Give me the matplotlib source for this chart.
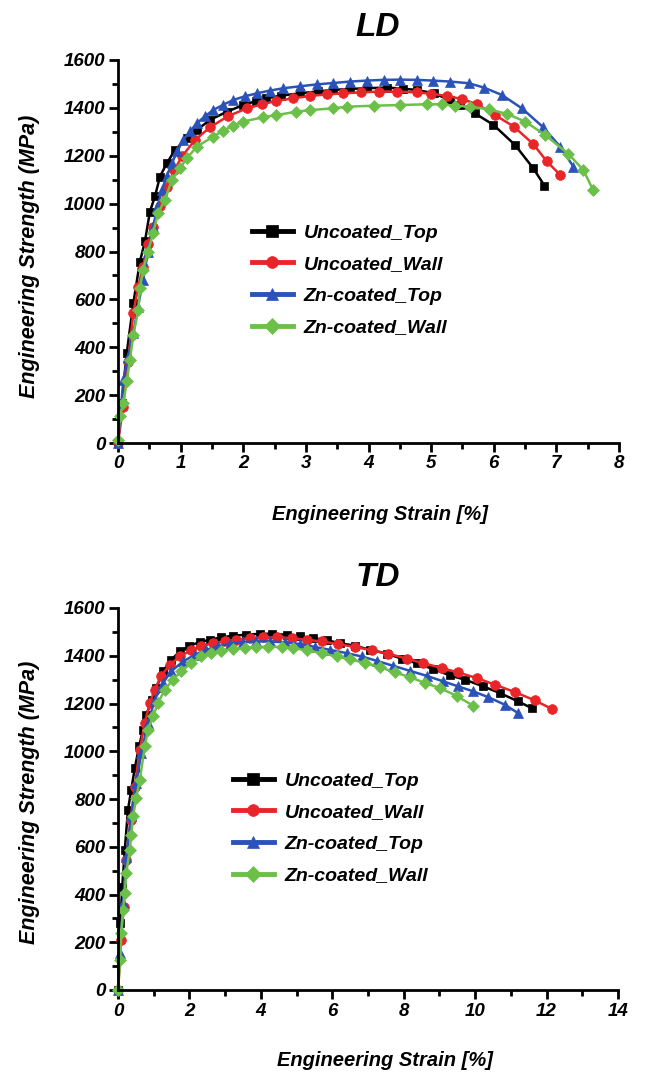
import matplotlib
matplotlib.use("Agg")
import matplotlib.pyplot as plt
from matplotlib.ticker import MultipleLocator

plt.rcParams['font.family'] = ['Liberation Sans', 'DejaVu Sans']
plt.rcParams['font.weight'] = 'bold'
plt.rcParams['font.style'] = 'italic'

labels = ["Uncoated_Top", "Uncoated_Wall", "Zn-coated_Top", "Zn-coated_Wall"]
colors = ["#000000", "#E8262A", "#2A52B8", "#6CC04A"]
markers = ["s", "o", "^", "D"]

# ---------------- LD data ----------------
ld_ut_x = [0.0, 0.06, 0.14, 0.245, 0.35, 0.43, 0.51, 0.59, 0.67, 0.78, 0.91, 1.10, 1.26, 1.47, 1.74,
           2.0, 2.2, 2.37, 2.6, 2.91, 3.2, 3.44, 3.7, 3.97, 4.29, 4.55, 4.77, 5.04, 5.30, 5.46, 5.70,
           5.996, 6.34, 6.63, 6.81]
ld_ut_y = [0, 167, 376, 584, 758, 842, 967, 1030, 1113, 1169, 1224, 1273, 1308, 1350, 1384,
           1412, 1428, 1440, 1451, 1461, 1469, 1475, 1479, 1482, 1485, 1480, 1475, 1461, 1433, 1412, 1377,
           1329, 1245, 1148, 1075]

ld_uw_x = [0.0, 0.08, 0.16, 0.245, 0.32, 0.40, 0.48, 0.56, 0.67, 0.78, 0.90, 1.02, 1.23, 1.47, 1.76,
           2.06, 2.3, 2.53, 2.8, 3.07, 3.33, 3.60, 3.88, 4.16, 4.45, 4.77, 5.0, 5.25, 5.49, 5.73,
           6.02, 6.32, 6.63, 6.85, 7.06]
ld_uw_y = [0, 150, 340, 543, 650, 737, 830, 904, 990, 1071, 1140, 1197, 1266, 1319, 1366,
           1398, 1415, 1429, 1440, 1450, 1456, 1461, 1465, 1468, 1468, 1465, 1459, 1450, 1437, 1416,
           1370, 1322, 1249, 1176, 1120]

ld_zt_x = [0.0, 0.085, 0.16, 0.245, 0.32, 0.40, 0.48, 0.56, 0.63, 0.70, 0.78, 0.86, 0.95, 1.04, 1.15,
           1.26, 1.39, 1.52, 1.68, 1.84, 2.02, 2.22, 2.42, 2.64, 2.9, 3.17, 3.44, 3.71, 3.97, 4.24,
           4.5, 4.77, 5.03, 5.30, 5.60, 5.84, 6.13, 6.45, 6.79, 7.06, 7.27]
ld_zt_y = [0, 264, 360, 459, 570, 682, 800, 904, 985, 1057, 1115, 1169, 1220, 1266, 1302,
           1336, 1365, 1391, 1413, 1433, 1448, 1461, 1472, 1482, 1490, 1498, 1504, 1510, 1514, 1517,
           1518, 1517, 1514, 1510, 1503, 1485, 1454, 1398, 1319, 1238, 1155]

ld_zw_x = [0.0, 0.03, 0.085, 0.14, 0.19, 0.245, 0.325, 0.35, 0.40, 0.48, 0.56, 0.64, 0.75, 0.86, 0.99,
           1.10, 1.26, 1.52, 1.68, 1.84, 2.0, 2.32, 2.53, 2.85, 3.07, 3.44, 3.65, 4.08, 4.50, 4.93,
           5.17, 5.38, 5.62, 5.92, 6.21, 6.50, 6.82, 7.19, 7.43, 7.59]
ld_zw_y = [14, 111, 167, 257, 348, 452, 557, 647, 723, 800, 877, 960, 1016, 1099, 1148,
           1190, 1238, 1280, 1305, 1325, 1343, 1361, 1370, 1384, 1391, 1398, 1405, 1409, 1412, 1415,
           1415, 1409, 1405, 1394, 1375, 1343, 1287, 1208, 1141, 1055]

# ---------------- TD data ----------------
td_ut_x = [0.0, 0.065, 0.12, 0.19, 0.28, 0.37, 0.47, 0.59, 0.70, 0.79, 0.96, 1.07, 1.26, 1.49, 1.73,
           2.0, 2.29, 2.57, 2.89, 3.22, 3.59, 3.97, 4.30, 4.72, 5.09, 5.46, 5.84, 6.21, 6.63, 7.05,
           7.52, 7.94, 8.36, 8.82, 9.29, 9.71, 10.22, 10.69, 11.2, 11.58]
td_ut_y = [0, 279, 433, 587, 755, 838, 929, 1020, 1090, 1153, 1216, 1265, 1335, 1383, 1418,
           1442, 1457, 1467, 1477, 1484, 1488, 1492, 1492, 1488, 1481, 1474, 1465, 1453, 1442, 1425,
           1409, 1388, 1369, 1344, 1318, 1300, 1272, 1244, 1209, 1181]

td_uw_x = [0.0, 0.09, 0.16, 0.23, 0.35, 0.47, 0.61, 0.75, 0.89, 1.03, 1.21, 1.45, 1.73, 2.05, 2.33,
           2.66, 2.99, 3.31, 3.69, 4.06, 4.44, 4.86, 5.28, 5.70, 6.16, 6.63, 7.10, 7.56, 8.08, 8.54,
           9.06, 9.52, 10.04, 10.55, 11.11, 11.67, 12.14]
td_uw_y = [0, 210, 349, 545, 713, 852, 1006, 1118, 1202, 1258, 1316, 1362, 1397, 1423, 1439,
           1453, 1460, 1467, 1474, 1477, 1477, 1474, 1467, 1460, 1449, 1437, 1423, 1409, 1388, 1369,
           1349, 1330, 1307, 1279, 1248, 1213, 1178]

td_zt_x = [0.0, 0.05, 0.14, 0.23, 0.37, 0.51, 0.65, 0.84, 1.03, 1.26, 1.49, 1.82, 2.15, 2.47, 2.80,
           3.13, 3.50, 3.87, 4.25, 4.67, 5.09, 5.51, 5.93, 6.40, 6.82, 7.24, 7.70, 8.17, 8.64, 9.10,
           9.52, 9.94, 10.36, 10.83, 11.2]
td_zt_y = [0, 154, 363, 559, 727, 866, 992, 1118, 1216, 1286, 1335, 1376, 1404, 1425, 1439,
           1450, 1457, 1460, 1460, 1456, 1449, 1437, 1425, 1411, 1397, 1379, 1358, 1337, 1316, 1293,
           1272, 1251, 1227, 1195, 1160]

td_zw_x = [0.0, 0.065, 0.09, 0.14, 0.19, 0.23, 0.33, 0.37, 0.42, 0.51, 0.61, 0.75, 0.84, 0.98, 1.12,
           1.31, 1.54, 1.77, 2.05, 2.33, 2.61, 2.89, 3.22, 3.55, 3.87, 4.20, 4.58, 4.90, 5.28, 5.70,
           6.12, 6.49, 6.91, 7.33, 7.75, 8.17, 8.59, 9.01, 9.48, 9.94]
td_zw_y = [0, 126, 238, 335, 405, 489, 587, 650, 727, 804, 880, 1020, 1090, 1146, 1202,
           1258, 1300, 1335, 1369, 1397, 1411, 1421, 1428, 1432, 1437, 1437, 1437, 1432, 1423, 1411,
           1397, 1386, 1369, 1353, 1330, 1311, 1286, 1265, 1232, 1191]

ld_series = [(ld_ut_x, ld_ut_y), (ld_uw_x, ld_uw_y), (ld_zt_x, ld_zt_y), (ld_zw_x, ld_zw_y)]
td_series = [(td_ut_x, td_ut_y), (td_uw_x, td_uw_y), (td_zt_x, td_zt_y), (td_zw_x, td_zw_y)]

W, H = 649, 1073
fig = plt.figure(figsize=(W / 100, H / 100), dpi=100)

def px_axes(x0, y0, x1, y1):
    return fig.add_axes([x0 / W, 1 - y1 / H, (x1 - x0) / W, (y1 - y0) / H])

ax1 = px_axes(118, 60, 619, 443)
ax2 = px_axes(118, 608, 618, 990)

tick_fs = 13.5
def style(ax, xmax, xmaj, xmin):
    ax.set_xlim(0, xmax)
    ax.set_ylim(0, 1600)
    ax.xaxis.set_major_locator(MultipleLocator(xmaj))
    ax.xaxis.set_minor_locator(MultipleLocator(xmin))
    ax.yaxis.set_major_locator(MultipleLocator(200))
    ax.yaxis.set_minor_locator(MultipleLocator(100))
    for s in ["top", "right"]:
        ax.spines[s].set_visible(False)
    for s in ["left", "bottom"]:
        ax.spines[s].set_linewidth(2)
    ax.tick_params(which="major", direction="out", length=6.5, width=2, labelsize=tick_fs, pad=2.5)
    ax.tick_params(which="minor", direction="out", length=4, width=2)
    for lab in ax.get_xticklabels() + ax.get_yticklabels():
        lab.set_fontweight("bold")
        lab.set_fontstyle("italic")

def draw(ax, series, leg_px):
    for (x, y), c, m, lab in zip(series, colors, markers, labels):
        ms = 7 if m in ("o", "^") else 6
        ax.plot(x, y, color=c, marker=m, markersize=ms, linewidth=1.8, label=lab,
                markeredgewidth=0.5, markeredgecolor=c, clip_on=False)
    lx, ly = leg_px
    leg = ax.legend(loc="upper left", bbox_to_anchor=(lx / W, 1 - ly / H),
                    bbox_transform=fig.transFigure, frameon=False, numpoints=1,
                    borderpad=0, borderaxespad=0,
                    handlelength=2.1, handletextpad=0.55, labelspacing=0.72,
                    prop={"family": "Liberation Sans", "weight": "bold", "style": "italic", "size": 14})
    for line in leg.get_lines():
        line.set_linewidth(3.5)
        line.set_markersize(8.5)

style(ax1, 8, 1, 0.5)
style(ax2, 14, 2, 1)
draw(ax1, ld_series, (252, 224))
draw(ax2, td_series, (233, 772))

tfont = dict(fontweight="bold", fontstyle="italic", ha="center", va="center")
fig.text(378 / W, 1 - 28 / H, "LD", fontsize=24, **tfont)
fig.text(378 / W, 1 - 577 / H, "TD", fontsize=24, **tfont)
fig.text(380 / W, 1 - 515 / H, "Engineering Strain [%]", fontsize=14.5, **tfont)
fig.text(385 / W, 1 - 1061 / H, "Engineering Strain [%]", fontsize=14.5, **tfont)
fig.text(30 / W, 1 - 256 / H, "Engineering Strength (MPa)", fontsize=15.5, rotation=90, **tfont)
fig.text(30 / W, 1 - 802 / H, "Engineering Strength (MPa)", fontsize=15.5, rotation=90, **tfont)

fig.savefig("out.png", dpi=100)
